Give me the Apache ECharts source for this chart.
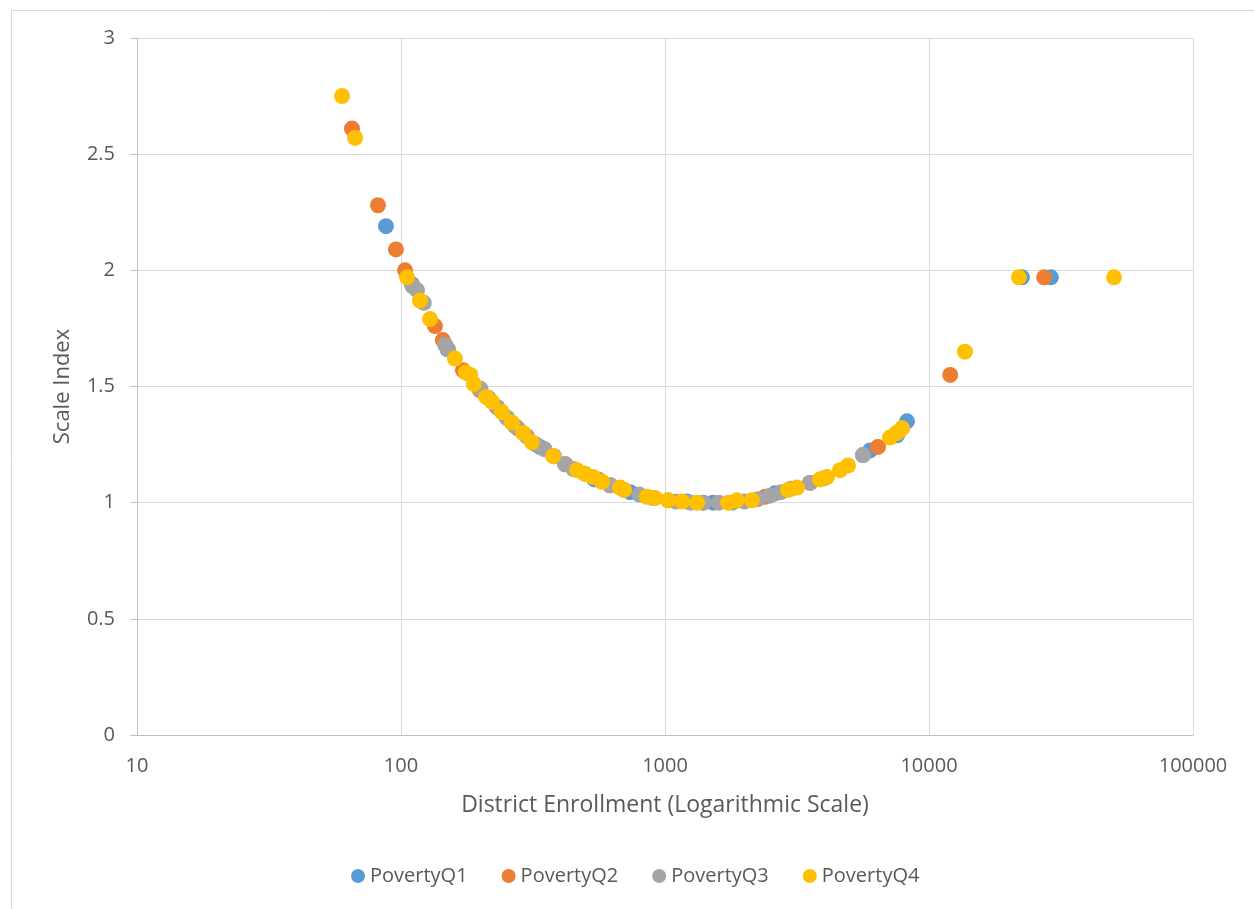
<!DOCTYPE html>
<html>
<head>
<meta charset="utf-8">
<script src="https://cdn.jsdelivr.net/npm/echarts@6/dist/echarts.min.js"></script>
<style>
html,body{margin:0;padding:0;background:#fff;}
#chart{width:1254px;height:909px;}
</style>
</head>
<body>
<div id="chart"></div>
<script>
// ---- data (District Enrollment, Scale Index) ----
const seriesNames = ['PovertyQ1', 'PovertyQ2', 'PovertyQ3', 'PovertyQ4'];
const yTicks = ['0', '0.5', '1', '1.5', '2', '2.5', '3'];
const xTicks = ['10', '100', '1000', '10000', '100000'];

const povertyQ1 = [
  [87.7, 2.19], [110, 1.94], [150, 1.66], [252, 1.365], [336, 1.24], [540, 1.10],
  [737, 1.045], [1211, 1.005], [1520, 1.0], [2610, 1.04], [5623, 1.205], [5978, 1.225],
  [7565, 1.29], [8254, 1.35], [22500, 1.97], [28950, 1.97]
];
const povertyQ2 = [
  [65.2, 2.61], [81.8, 2.28], [95.7, 2.09], [103.6, 2.0], [134.5, 1.76], [144, 1.70],
  [171.7, 1.57], [199, 1.485], [232, 1.41], [277, 1.32], [300, 1.285], [420, 1.165],
  [620, 1.075], [1393, 1.0], [2392, 1.025], [3541, 1.085], [6410, 1.24], [12030, 1.55],
  [27300, 1.97]
];
const povertyQ3 = [
  [111, 1.93], [115, 1.915], [122, 1.86], [147, 1.68], [151, 1.66], [200, 1.49],
  [215, 1.45], [231, 1.41], [252, 1.365], [270, 1.33], [300, 1.285], [325, 1.25],
  [350, 1.23], [380, 1.20], [418, 1.165], [450, 1.145], [497, 1.125], [560, 1.10],
  [619, 1.075], [700, 1.055], [800, 1.035], [900, 1.02], [1027, 1.01], [1100, 1.005],
  [1250, 1.0], [1400, 1.0], [1600, 1.0], [1800, 1.0], [2000, 1.005], [2250, 1.015],
  [2500, 1.03], [2750, 1.045], [3000, 1.06], [3541, 1.085], [4000, 1.105], [5623, 1.205],
  [7565, 1.30], [7902, 1.32]
];
const povertyQ4 = [
  [59.8, 2.75], [67, 2.57], [105.4, 1.97], [118, 1.87], [128.8, 1.79], [160, 1.62],
  [176, 1.56], [183, 1.55], [189, 1.51], [210, 1.455], [221, 1.435], [241, 1.39],
  [263, 1.345], [290, 1.30], [313, 1.26], [377, 1.20], [464, 1.14], [497, 1.125],
  [534, 1.11], [577, 1.09], [675, 1.065], [700, 1.055], [855, 1.025], [917, 1.02],
  [1027, 1.01], [1160, 1.005], [1322, 1.0], [1733, 1.0], [1874, 1.01], [2136, 1.01],
  [2924, 1.055], [3162, 1.065], [3865, 1.10], [4108, 1.11], [4602, 1.14], [4934, 1.16],
  [7117, 1.28], [7565, 1.30], [7902, 1.32], [13680, 1.65], [21900, 1.97], [50200, 1.97]
];
const seriesData = [povertyQ1, povertyQ2, povertyQ3, povertyQ4];
const colors = ['#5b9bd5', '#ed7d31', '#a5a5a5', '#ffc000'];

const FONT = 'Open Sans';
const chart = echarts.init(document.getElementById('chart'), null, { renderer: 'canvas' });
chart.setOption({
  backgroundColor: '#ffffff',
  animation: false,
  color: colors,
  graphic: [{
    type: 'rect',
    shape: { x: 11.5, y: 10.5, width: 1400, height: 1000 },
    style: { fill: 'none', stroke: '#d9d9d9', lineWidth: 1 },
    silent: true, z: -10
  }],
  grid: { left: 137, right: 61, top: 38, bottom: 174, containLabel: false },
  legend: {
    data: seriesNames,
    bottom: 18,
    left: 346,
    icon: 'circle',
    itemWidth: 14,
    itemHeight: 14,
    itemGap: 34,
    textStyle: { color: '#595959', fontSize: 20, fontFamily: FONT }
  },
  xAxis: {
    type: 'log',
    logBase: 10,
    min: 10,
    max: 100000,
    name: 'District Enrollment (Logarithmic Scale)',
    nameLocation: 'middle',
    nameGap: 59,
    nameTextStyle: { color: '#595959', fontSize: 23, fontFamily: FONT },
    axisLine: { show: true, lineStyle: { color: '#bfbfbf', width: 1 } },
    axisTick: { show: false },
    axisLabel: {
      color: '#595959', fontSize: 20, fontFamily: FONT, margin: 21,
      formatter: function (v) {
        const i = Math.round(Math.log10(v)) - 1;
        return xTicks[i] !== undefined ? xTicks[i] : String(v);
      }
    },
    splitLine: { show: true, lineStyle: { color: '#d9d9d9', width: 1 } },
    minorTick: { show: false },
    minorSplitLine: { show: false }
  },
  yAxis: {
    type: 'value',
    min: 0,
    max: 3,
    interval: 0.5,
    name: 'Scale Index',
    nameLocation: 'middle',
    nameGap: 63,
    nameTextStyle: { color: '#595959', fontSize: 22, fontFamily: FONT },
    axisLine: { show: true, lineStyle: { color: '#bfbfbf', width: 1 } },
    axisTick: { show: true, length: 7, inside: false, lineStyle: { color: '#bfbfbf' } },
    axisLabel: {
      color: '#595959', fontSize: 20, fontFamily: FONT, margin: 22,
      formatter: function (v) { return yTicks[Math.round(v * 2)]; }
    },
    splitLine: { show: true, lineStyle: { color: '#d9d9d9', width: 1 } }
  },
  series: seriesNames.map(function (name, i) {
    return {
      name: name,
      type: 'scatter',
      data: seriesData[i],
      symbol: 'circle',
      symbolSize: 16,
      itemStyle: { color: colors[i], opacity: 1 },
      z: 2 + i
    };
  })
});
</script>
</body>
</html>
